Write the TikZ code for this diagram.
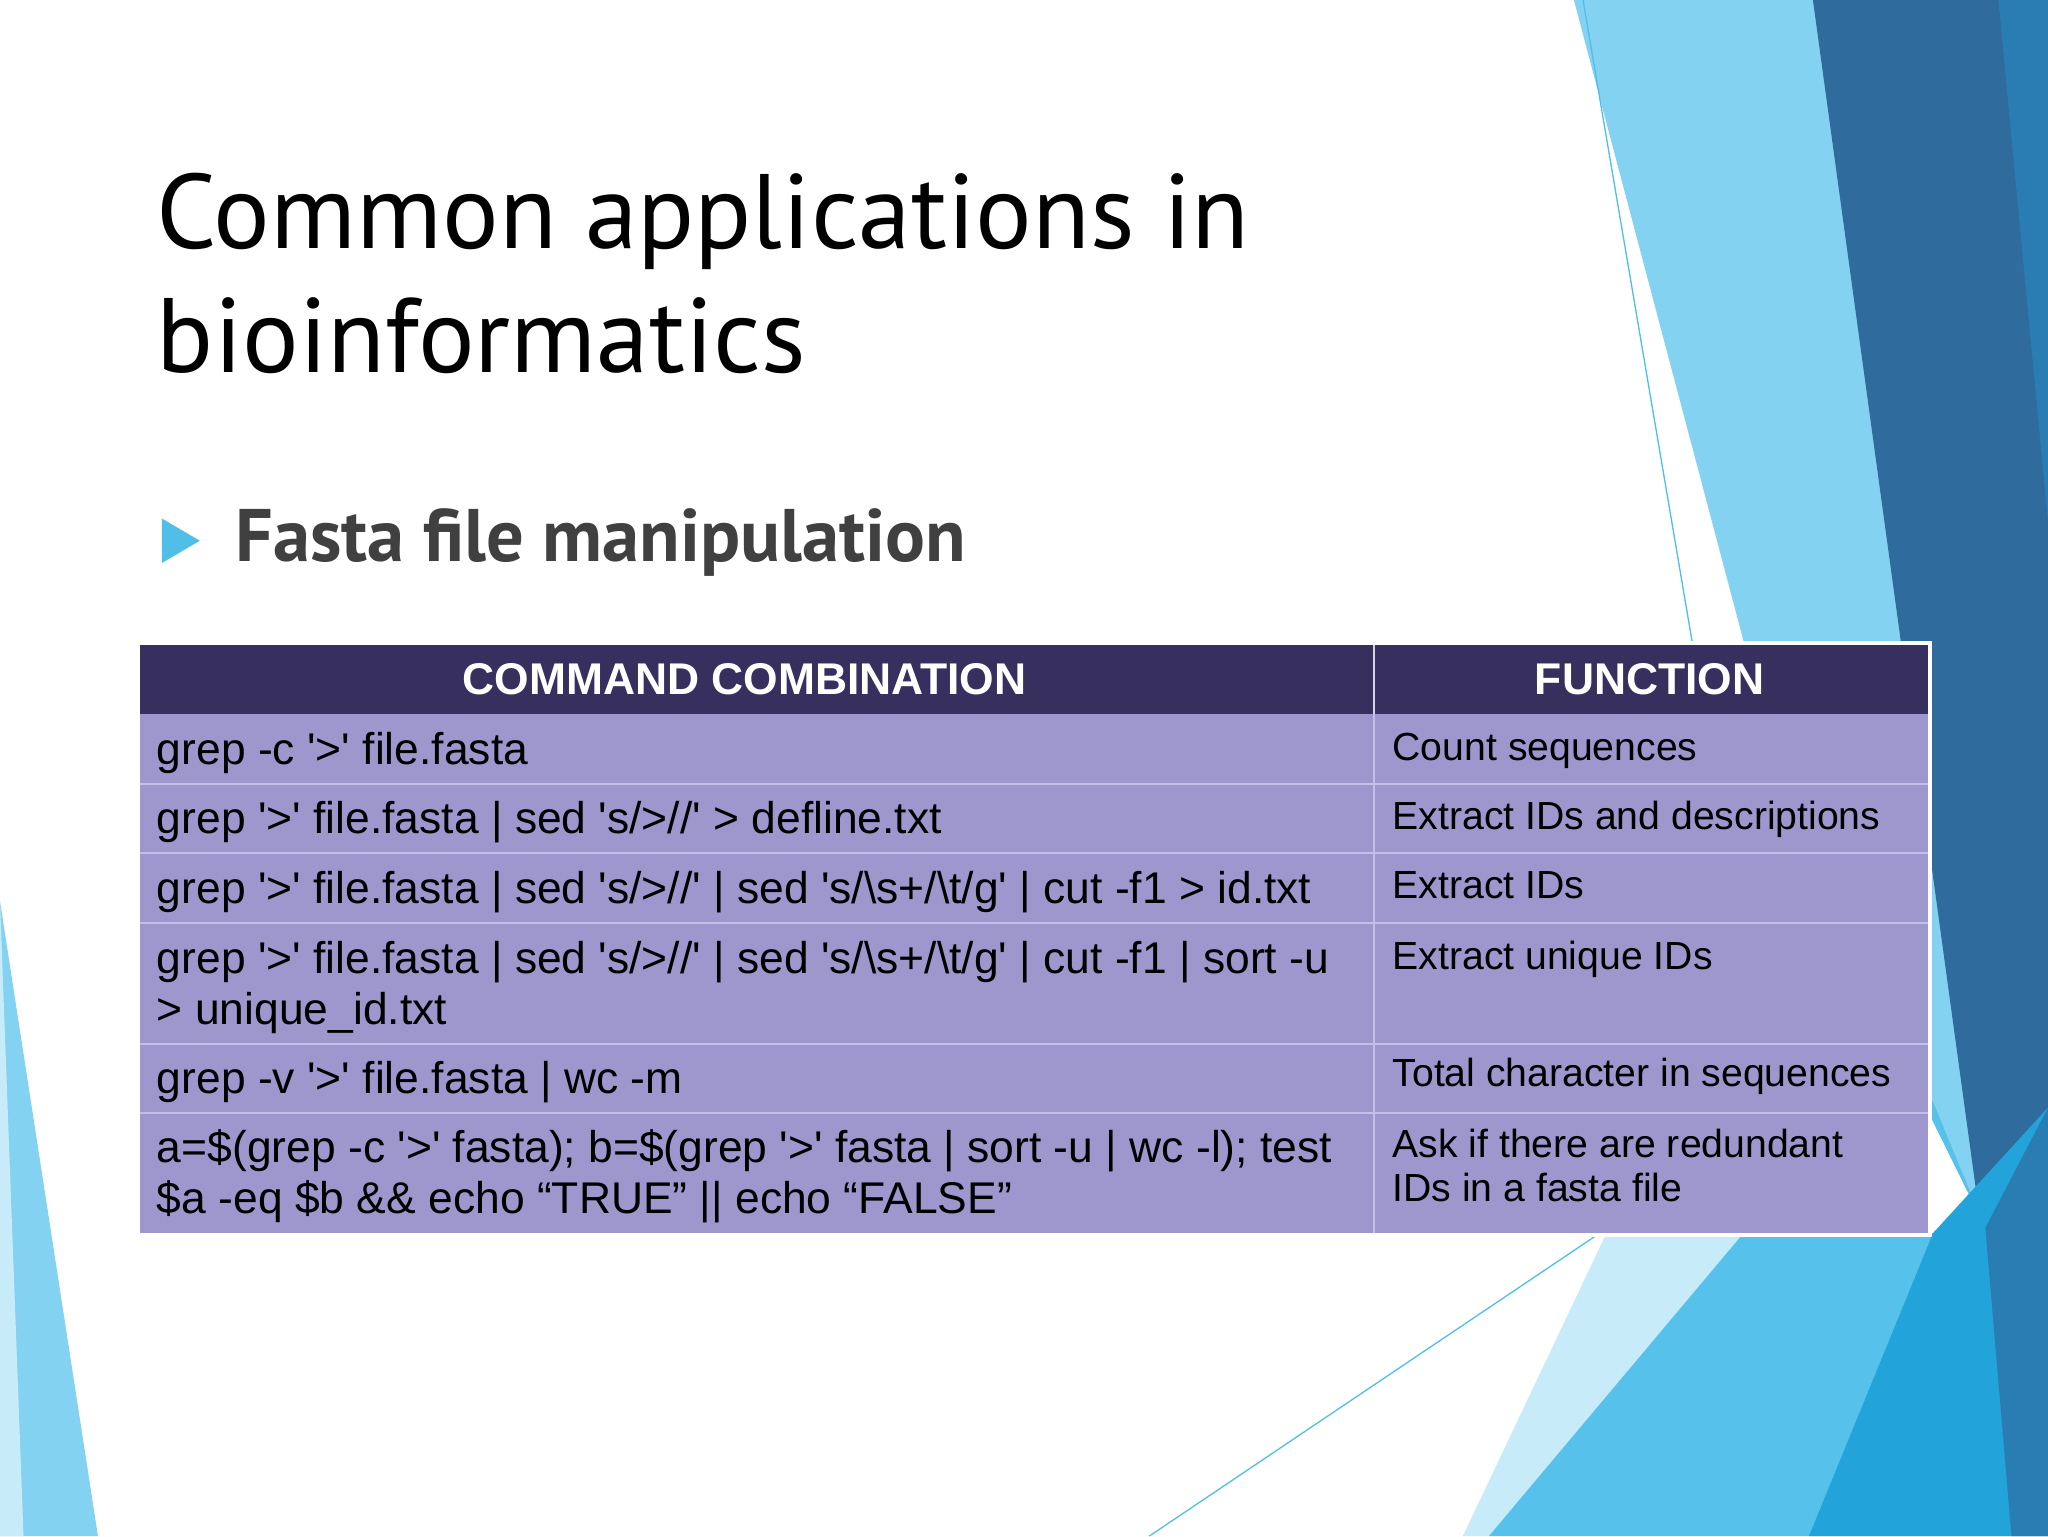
\documentclass[tikz,border=0pt]{standalone}
\usepackage{fontspec}
\newfontfamily\titlefont{PT Sans}
\newfontfamily\tabfont{Liberation Sans}
\definecolor{hdr}{HTML}{37305F}
\definecolor{rowc}{HTML}{9D97CE}
\definecolor{rowline}{HTML}{C3BFE8}
\definecolor{bdark}{HTML}{2F6B9C}
\definecolor{bdark2}{HTML}{2A7DB3}
\definecolor{blight}{HTML}{84D2F2}
\definecolor{bmed}{HTML}{56C2EB}
\definecolor{bpale}{HTML}{C8EBF9}
\definecolor{bdeep}{HTML}{22A4DA}
\definecolor{tri}{HTML}{4FBFE8}
\begin{document}
\begin{tikzpicture}[x=1pt,y=-1pt,
  ltext/.style={anchor=base west,inner sep=0pt,font=\tabfont\fontsize{34}{38}\selectfont},
  rtext/.style={anchor=base west,inner sep=0pt,font=\tabfont\fontsize{30}{34}\selectfont},
  htext/.style={anchor=base,inner sep=0pt,text=white,font=\tabfont\bfseries\fontsize{34}{38}\selectfont}]
\useasboundingbox (0,0) rectangle (1568,1176);
\fill[white] (0,0) rectangle (1568,1176);
% background shapes
\fill[blight] (1205,0) -- (1390,0) -- (1520,940) -- (1336,495) -- cycle;
\fill[bmed] (1336,495) -- (1520,940) -- (1300,494) -- cycle;
\fill[bdark] (1388,0) -- (1568,0) -- (1568,848) -- (1516,934) -- cycle;
\fill[bdark2] (1530,0) -- (1568,0) -- (1568,400) -- cycle;
\fill[bpale] (1230,944) -- (1340,944) -- (1140,1176) -- (1120,1176) -- cycle;
\fill[bmed] (1335,944) -- (1568,944) -- (1568,1176) -- (1140,1176) -- cycle;
\fill[bdeep] (1568,848) -- (1568,1176) -- (1385,1176) -- (1480,944) -- cycle;
\fill[bdark2] (1568,848) -- (1568,1176) -- (1540,1176) -- (1520,940) -- cycle;
\fill[blight] (0,690) -- (75,1176) -- (0,1176) -- cycle;
\fill[bpale] (0,690) -- (18,1176) -- (0,1176) -- cycle;
\coordinate (l1a) at (1212,0); \coordinate (l1b) at (1296,494);
\draw[tri,line width=1pt] (l1a) -- (l1b);
\coordinate (l2a) at (880,1176); \coordinate (l2b) at (1222,946);
\draw[tri,line width=1pt] (l2a) -- (l2b);
% title
\node[anchor=base west,inner sep=0pt,align=left,font=\titlefont\fontsize{81}{95}\selectfont] (title) at (120,285) {Common applications in\\bioinformatics};
\fill[tri] (124,397) -- (153,414) -- (124,431) -- cycle;
\node[anchor=base west,inner sep=0pt,text=black!75,font=\titlefont\bfseries\fontsize{57}{66}\selectfont] (sub) at (180,430) {Fasta file manipulation};
% table
\fill[white] (104,491) rectangle (1479,947);
\fill[hdr] (107,494) rectangle (1476,547);
\fill[rowc] (107,547) rectangle (1476,944);
\foreach \y in {600,653,707,799,852} \draw[rowline,line width=1.5pt] (107,\y) -- (1476,\y);
\draw[rowline,line width=1.5pt] (1052,547) -- (1052,944);
\draw[white!80!hdr,line width=1.5pt] (1052,494) -- (1052,547);
\node[htext] (h1) at (570,532) {COMMAND COMBINATION};
\node[htext] (h2) at (1263,532) {FUNCTION};
\node[ltext] (c1) at (120,585) {grep -c '>' file.fasta};
\node[ltext] (c2) at (120,638) {grep '>' file.fasta | sed 's/>//' > defline.txt};
\node[ltext] (c3) at (120,692) {grep '>' file.fasta | sed 's/>//' | sed 's/\textbackslash s+/\textbackslash t/g' | cut -f1 > id.txt};
\node[ltext] (c4) at (120,745) {grep '>' file.fasta | sed 's/>//' | sed 's/\textbackslash s+/\textbackslash t/g' | cut -f1 | sort -u};
\node[ltext] (c4b) at (120,784) {> unique\_id.txt};
\node[ltext] (c5) at (120,837) {grep -v '>' file.fasta | wc -m};
\node[ltext] (c6) at (120,890) {a=\$(grep -c '>' fasta); b=\$(grep '>' fasta | sort -u | wc -l); test};
\node[ltext] (c6b) at (120,929) {\$a -eq \$b \&\& echo “TRUE” || echo “FALSE”};
\node[rtext] (f1) at (1066,582) {Count sequences};
\node[rtext] (f2) at (1066,635) {Extract IDs and descriptions};
\node[rtext] (f3) at (1066,688) {Extract IDs};
\node[rtext] (f4) at (1066,742) {Extract unique IDs};
\node[rtext] (f5) at (1066,832) {Total character in sequences};
\node[rtext] (f6) at (1066,886) {Ask if there are redundant};
\node[rtext] (f6b) at (1066,920) {IDs in a fasta file};
\end{tikzpicture}
\end{document}
